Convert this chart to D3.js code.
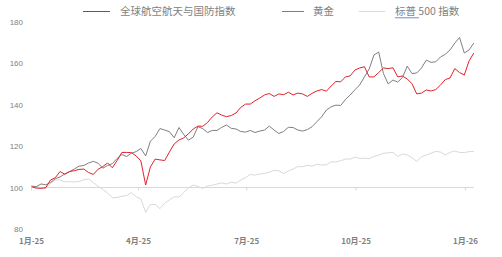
<!DOCTYPE html>
<html lang="zh">
<head>
<meta charset="UTF-8">
<title></title>
<script src="https://d3js.org/d3.v7.min.js"></script>
<style>
  body { margin: 0; background: #fff; }
  svg text { font-family: "Noto Sans CJK SC", "Noto Sans", sans-serif; fill: #7f7f7f; }
</style>
</head>
<body>
<svg id="chart" width="502" height="257"></svg>
<script>
// series names for the legend
const seriesNames = ["全球航空航天与国防指数", "黄金", "标普 500 指数"];
const seriesColors = ["#e0232b", "#7f7f7f", "#d9d9d9"];

// one value every 4 calendar days, starting 2025-01-01
const startDate = new Date(2025, 0, 1);
const stepDays = 4;

const defense = [100.4, 99.7, 99.6, 99.9, 103.6, 104.7, 107.7, 106.4, 107.7, 108.1,
  108.7, 108.9, 107.2, 106.3, 108.8, 110.1, 111.8, 109.5, 113.0, 116.9,
  116.9, 116.8, 115.2, 112.8, 101.2, 109.9, 113.7, 113.3, 113.0, 117.1,
  121.0, 122.9, 123.9, 125.9, 128.2, 129.6, 129.5, 131.3, 134.0, 136.0,
  134.9, 134.1, 134.7, 135.9, 138.6, 140.2, 140.2, 141.8, 143.1, 144.6,
  145.3, 143.9, 145.1, 144.7, 145.9, 144.6, 145.5, 145.1, 143.9, 145.4,
  146.5, 147.2, 146.4, 148.9, 151.1, 150.9, 153.3, 153.8, 156.6, 157.6,
  158.2, 153.3, 153.3, 155.4, 157.6, 157.3, 157.7, 153.3, 153.7, 152.3,
  150.0, 145.1, 145.5, 147.0, 146.5, 147.2, 149.4, 152.0, 152.8, 157.3,
  155.4, 154.2, 161.0, 164.8];

const gold = [100.7, 100.4, 101.7, 101.3, 102.4, 104.2, 105.1, 106.5, 107.6, 108.9,
  110.3, 110.6, 111.8, 112.6, 111.7, 109.3, 110.6, 111.5, 114.0, 115.9,
  114.9, 116.5, 117.3, 118.8, 115.2, 122.3, 124.6, 128.4, 127.7, 126.9,
  124.0, 128.9, 125.6, 122.8, 124.3, 129.3, 128.4, 126.5, 127.5, 127.5,
  129.0, 130.1, 128.5, 128.2, 127.0, 126.7, 127.5, 126.5, 127.2, 127.7,
  129.6, 127.7, 126.0, 127.0, 129.0, 128.9, 127.7, 127.2, 127.9, 129.3,
  131.7, 134.1, 137.3, 138.9, 139.7, 139.5, 142.4, 144.6, 147.1, 149.4,
  153.3, 157.1, 163.9, 165.3, 154.9, 149.9, 151.8, 150.8, 153.0, 158.5,
  154.9, 155.2, 157.6, 161.4, 160.3, 160.6, 162.9, 164.2, 166.3, 169.6,
  172.3, 164.8, 166.3, 169.6];

const spx = [100.1, 100.4, 100.0, 99.4, 101.9, 103.6, 103.6, 102.8, 102.8, 102.7,
  102.9, 103.7, 104.2, 102.4, 100.6, 99.1, 97.3, 95.1, 95.2, 95.8,
  96.1, 97.5, 95.5, 94.5, 88.0, 91.8, 91.8, 89.8, 92.4, 94.0,
  95.5, 95.4, 97.5, 99.8, 101.2, 100.5, 99.6, 100.7, 101.1, 101.7,
  102.2, 101.7, 102.6, 102.1, 103.6, 104.8, 106.3, 106.0, 106.5, 106.8,
  107.4, 108.3, 108.0, 106.7, 108.0, 108.9, 110.1, 110.0, 110.7, 110.3,
  111.2, 110.8, 111.0, 112.4, 112.3, 112.9, 113.7, 113.7, 114.6, 114.0,
  114.1, 113.9, 115.0, 115.6, 116.5, 116.7, 116.9, 115.0, 116.1, 115.7,
  114.3, 112.6, 114.8, 115.7, 116.5, 117.4, 117.1, 115.7, 116.9, 117.6,
  116.9, 116.8, 117.3, 117.4];

const yTicks = [80, 100, 120, 140, 160, 180];
const xTicks = [new Date(2025, 0, 1), new Date(2025, 3, 1), new Date(2025, 6, 1),
  new Date(2025, 9, 1), new Date(2026, 0, 1)];

const svg = d3.select("#chart");

const x = d3.scaleTime()
  .domain([new Date(2025, 0, 1), new Date(2026, 0, 1)])
  .range([31.5, 465.5]);
const y = d3.scaleLinear().domain([80, 180]).range([229, 21.5]);

const dates = defense.map((d, i) => d3.timeDay.offset(startDate, i * stepDays));
const allSeries = [spx, gold, defense];
const allColors = [seriesColors[2], seriesColors[1], seriesColors[0]];

// y labels, no axis line
const yAxis = svg.append("g")
  .attr("transform", "translate(23,0)")
  .call(d3.axisLeft(y).tickValues(yTicks).tickSize(0).tickPadding(0));
yAxis.select(".domain").remove();
yAxis.selectAll("text").style("font-size", "8px").style("font-family", "'Liberation Sans', sans-serif").attr("fill", "#8c8c8c");

// x axis line sits at 100
const y100 = y(100);
svg.append("line")
  .attr("x1", x(dates[0])).attr("x2", x(dates[dates.length - 1]))
  .attr("y1", y100).attr("y2", y100)
  .attr("stroke", "#d9d9d9").attr("stroke-width", 1);
svg.selectAll(".xtick").data(xTicks).enter().append("line")
  .attr("class", "xtick")
  .attr("x1", d => x(d)).attr("x2", d => x(d))
  .attr("y1", y100).attr("y2", y100 + 3)
  .attr("stroke", "#d9d9d9");

// x labels at the bottom
const fmt = d => (d.getMonth() + 1) + "月-" + String(d.getFullYear()).slice(2);
svg.selectAll(".xlab").data(xTicks).enter().append("text")
  .attr("class", "xlab")
  .attr("x", d => x(d)).attr("y", 243.5)
  .attr("text-anchor", "middle")
  .style("font-size", "8px").style("font-weight", "bold")
  .attr("fill", "#8c8c8c")
  .text(fmt);

// lines
const line = d3.line().x((d, i) => x(dates[i])).y(d => y(d));
svg.selectAll(".series").data(allSeries).enter().append("path")
  .attr("class", "series")
  .attr("d", line)
  .attr("fill", "none")
  .attr("stroke", (d, i) => allColors[i])
  .attr("stroke-width", 1)
  .attr("stroke-linejoin", "round");

// legend
const legendX = [[83, 110, 120], [282, 304, 313], [359, 385, 395]];
const legend = svg.selectAll(".legend").data(seriesNames).enter().append("g").attr("class", "legend");
legend.append("line")
  .attr("x1", (d, i) => legendX[i][0]).attr("x2", (d, i) => legendX[i][1])
  .attr("y1", 11.5).attr("y2", 11.5)
  .attr("stroke", (d, i) => seriesColors[i]).attr("stroke-width", 1);
legend.append("text")
  .attr("x", (d, i) => legendX[i][2]).attr("y", 15)
  .style("font-size", "10.5px")
  .attr("fill", "#595959")
  .text(d => d);
// spell-check underline under 标普
svg.append("line").attr("x1", 395).attr("x2", 419).attr("y1", 17.8).attr("y2", 17.8)
  .attr("stroke", "#4472c4").attr("stroke-width", 0.8);
</script>
</body>
</html>
